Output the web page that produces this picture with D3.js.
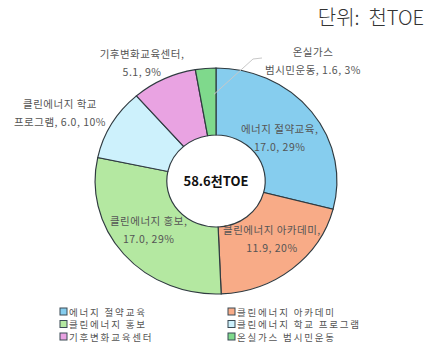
<!DOCTYPE html>
<html>
<head>
<meta charset="utf-8">
<script src="https://cdn.jsdelivr.net/npm/d3@7"></script>
<style>
  html, body { margin: 0; padding: 0; background: #fff; }
  svg { display: block; }
</style>
</head>
<body>
<svg id="chart" width="430" height="349"></svg>
<script>
// Program budgets (thousand TOE)
const categories = ["에너지 절약교육", "클린에너지 아카데미", "클린에너지 홍보", "클린에너지 학교 프로그램", "기후변화교육센터", "온실가스 범시민운동"];
const values = [17.0, 11.9, 17.0, 6.0, 5.1, 1.6];
const percents = [29, 20, 29, 10, 9, 3];
const colors = ["#86cdee", "#f8ab87", "#b4e8a1", "#cdf1fc", "#e9a3e2", "#7fd98c"];
const totalLabel = "58.6천TOE";
const unitLabel = "단위:\u00a0\u00a0천TOE";

const svg = d3.select("#chart");
const cx = 216, cy = 181;
const outerR = 113, innerR = 46, stretchX = 1.07;

const pie = d3.pie().sort(null).value(d => d)(values);
const arc = d3.arc().innerRadius(innerR).outerRadius(outerR);

// Donut ring (slightly wider than tall)
const ring = svg.append("g").attr("transform", `translate(${cx},${cy}) scale(${stretchX},1)`);
ring.selectAll("path").data(pie).join("path")
  .attr("d", arc)
  .attr("fill", (d, i) => colors[i])
  .attr("stroke", "#2f3a40")
  .attr("stroke-width", 1.1);

// Centre total
svg.append("text")
  .attr("x", cx).attr("y", cy + 5)
  .attr("text-anchor", "middle")
  .attr("font-family", "'Noto Sans CJK KR', sans-serif")
  .attr("font-size", 13).attr("font-weight", "bold")
  .attr("fill", "#111")
  .text(totalLabel);

// Unit caption
svg.append("text")
  .attr("x", 424).attr("y", 25)
  .attr("text-anchor", "end")
  .attr("font-family", "'Noto Sans CJK KR', sans-serif")
  .attr("font-size", 20)
  .attr("font-weight", 300)
  .attr("fill", "#333")
  .text(unitLabel);

// Slice labels: inside slices sit at the ring's mid-radius, small slices go outside
const fmt = d3.format(".1f");
const labelArc = d3.arc().innerRadius(80).outerRadius(80);
const labelLayout = [
  { mode: "in", dx: -4, dy: 9, split: 1 },
  { mode: "in", dx: 2, dy: -1, split: 1 },
  { mode: "in", dx: -2, dy: 0, split: 1 },
  { mode: "out", x: 60, y: 108, split: 2 },
  { mode: "out", x: 142, y: 58, split: 1 },
  { mode: "out", x: 313, y: 56, split: 3 }
];

pie.forEach((p, i) => {
  const L = labelLayout[i];
  let x, y;
  if (L.mode === "in") {
    const c = labelArc.centroid(p);
    x = cx + c[0] * stretchX + L.dx;
    y = cy + c[1] + L.dy - 8;
  } else {
    x = L.x; y = L.y;
  }
  const valText = `${fmt(values[i])}, ${percents[i]}%`;
  let lines;
  if (L.split === 1) lines = [categories[i] + ",", valText];
  else if (L.split === 2) {
    // break the long name after its first word
    const parts = categories[i].split(" ");
    lines = [parts.slice(0, 2).join(" "), parts.slice(2).join(" ") + ", " + valText];
  } else {
    const parts = categories[i].split(" ");
    lines = [parts[0], parts.slice(1).join(" ") + ", " + valText];
  }
  const t = svg.append("text")
    .attr("text-anchor", "middle")
    .attr("font-family", "'Noto Sans CJK KR', sans-serif")
    .attr("font-size", 10.5)
    .attr("letter-spacing", 0.5)
    .attr("fill", "#555");
  lines.forEach((ln, k) => {
    t.append("tspan").attr("x", x).attr("y", y + k * 18).text(ln);
  });
});

// Leader line for the smallest slice
const small = pie[5];
const mid = (small.startAngle + small.endAngle) / 2;
const edgeR = outerR - 26;
const ex = cx + Math.sin(mid) * edgeR * stretchX + 6, ey = cy - Math.cos(mid) * edgeR;
svg.append("polyline")
  .attr("points", `${ex},${ey} ${253},${59} ${262},${58}`)
  .attr("fill", "none")
  .attr("stroke", "#c8c8c8")
  .attr("stroke-width", 1);

// Legend: two columns, row-major
const legend = svg.append("g")
  .attr("font-family", "'Noto Sans CJK KR', sans-serif")
  .attr("font-size", 9.5)
  .attr("fill", "#555");
const colX = [60, 228], rowY = [312, 324.5, 337];
categories.forEach((c, i) => {
  const gx = colX[i % 2], gy = rowY[Math.floor(i / 2)];
  legend.append("rect")
    .attr("x", gx).attr("y", gy - 4).attr("width", 7).attr("height", 7)
    .attr("fill", colors[i]).attr("stroke", "#3a4a55").attr("stroke-width", 1);
  legend.append("text")
    .attr("x", gx + 9).attr("y", gy + 3.5)
    .attr("letter-spacing", 1.8)
    .text(c);
});
</script>
</body>
</html>
